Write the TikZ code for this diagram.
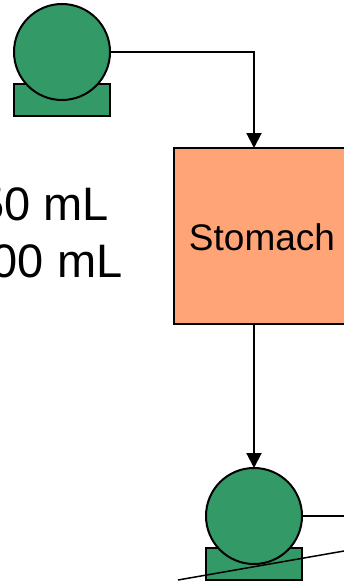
\documentclass[tikz,border=0pt]{standalone}
\usepackage{fontspec}
\setmainfont{Liberation Sans}
\usetikzlibrary{arrows.meta}
\definecolor{pumpgreen}{HTML}{339966}
\definecolor{stomachorange}{HTML}{FFA477}
\tikzset{
  outline/.style={draw=black,line width=2pt},
  pumpbase/.style={outline,fill=pumpgreen,minimum width=96pt,minimum height=32pt,inner sep=0pt,outer sep=0pt},
  pumphead/.style={outline,fill=pumpgreen,circle,minimum size=96pt,inner sep=0pt,outer sep=0pt},
  organ/.style={outline,fill=stomachorange,minimum width=190pt,minimum height=176pt,inner sep=0pt,outer sep=0pt},
  flow/.style={line width=2pt},
  flowarrow/.style={flow,-{Triangle[length=15pt,width=15pt]}},
  volume/.style={inner sep=0pt,outer sep=0pt,anchor=base east,font=\fontsize{47}{47}\selectfont}
}
\begin{document}
\begin{tikzpicture}[x=1pt,y=-1pt]
\useasboundingbox (0,0) rectangle (344,581);
\node[pumpbase] (base1) at (62,100) {};
\node[pumphead] (pump1) at (62,52) {};
\node[pumpbase] (base2) at (254,564) {};
\node[pumphead] (pump2) at (254,516) {};
\node[organ] (stomach) at (269,236) {};
\node[inner sep=0pt,font=\fontsize{37}{37}\selectfont,anchor=base] (label) at (262,250) {Stomach};
\node[volume] (vol1) at (109,220.5) {50 mL};
\node[volume] (vol2) at (122.5,277.5) {100 mL};
\coordinate (turn) at (254,52);
\coordinate (exit2) at (344,516);
\coordinate (lineA) at (344,551);
\coordinate (lineB) at (178,580);
\draw[flowarrow] (pump1.east) -- (turn) -- (254,148);
\draw[flowarrow] (254,324) -- (pump2.north);
\draw[flow] (pump2.east) -- (exit2);
\draw[line width=1.5pt] (lineA) -- (lineB);
\end{tikzpicture}
\end{document}
